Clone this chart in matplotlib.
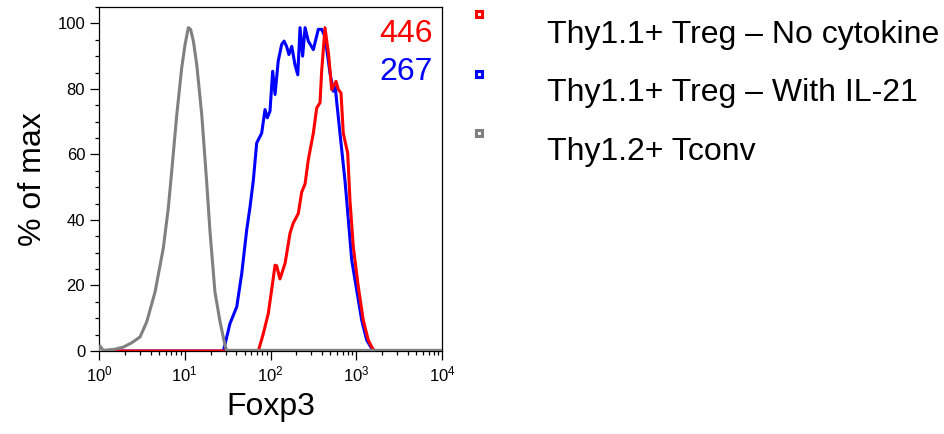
import numpy as np
import matplotlib
matplotlib.use("Agg")
import matplotlib.pyplot as plt
from matplotlib.lines import Line2D
from matplotlib.ticker import LogLocator, MultipleLocator

plt.rcParams['font.family'] = ['Liberation Sans', 'DejaVu Sans']
plt.rcParams['mathtext.fontset'] = 'custom'
plt.rcParams['mathtext.rm'] = 'Liberation Sans'
plt.rcParams['mathtext.it'] = 'Liberation Sans'

# Foxp3 intensity / % of max
tconv_x = [1.0, 1.03, 1.12, 1.5, 1.92, 2.4, 3.01, 3.60, 4.50, 5.62, 6.43, 7.04, 8.06,
           9.21, 10.07, 11.0, 11.7, 12.6, 13.8, 15.8, 18.0, 19.7, 22.5, 25.8, 29.5, 30.8, 10000]
tconv_y = [0.5, 1.5, 0.2, 0.5, 1.2, 2.5, 4.3, 8.9, 18, 31.4, 43.7, 54.8, 72,
           86.4, 93.5, 98.7, 98.2, 94.6, 87.4, 72, 51.7, 36.4, 18, 8.9, 1.7, 0.2, 0.2]

il21_x = [1.45, 28.2, 33.7, 40.4, 46.2, 52.8, 57.7, 63.0, 69.0, 78.9, 86.3, 91.8, 98.6,
          106, 113, 123, 135, 144, 154, 164, 177, 193, 208, 221, 237, 253, 276, 316, 361,
          395, 432, 494, 540, 565, 591, 646, 739, 774, 885, 1012, 1158, 1325, 1515, 1656, 10000]
il21_y = [0, 0, 8.4, 13.5, 23.7, 37, 44, 52, 63.5, 66.5, 73.7, 71.2, 73.2,
          85.4, 78.3, 88.5, 93.6, 94.6, 93, 90.5, 93, 87.4, 84.3, 98.7, 90, 98.7, 94.6, 92, 98.2,
          98.2, 96, 84.9, 79.3, 81.4, 76.2, 66.5, 52, 46, 27.8, 18.6, 9.4, 3.3, 0.8, 0, 0]

nocyt_x = [1.45, 72.1, 82.4, 94.3, 103, 113, 118, 129, 148, 169, 184, 211, 231, 253,
           276, 316, 346, 378, 395, 432, 476, 517, 581, 618, 664, 706, 795, 845,
           924, 1057, 1208, 1383, 1556, 1656, 10000]
nocyt_y = [0, 0, 5.3, 11.5, 18.6, 26.2, 26, 22, 26.8, 36, 39, 42, 48.5, 51,
           58.4, 66.5, 74.2, 75.8, 85.4, 98.7, 90.5, 79.8, 82.3, 79.8, 78.8, 66.5, 60.4, 46,
           31.8, 19.6, 9.4, 3.3, 0.7, 0, 0]

labels = ["Thy1.1+ Treg \u2013 No cytokine", "Thy1.1+ Treg \u2013 With IL-21", "Thy1.2+ Tconv"]
colors = ["#ff0000", "#0000ff", "#808080"]
mfi = ["446", "267"]

fig = plt.figure(figsize=(9.44, 4.34), dpi=100)
ax = fig.add_axes([0.1049, 0.1912, 0.3633, 0.7926])

ax.plot(il21_x, il21_y, color=colors[1], lw=2.2, zorder=2)
ax.plot(nocyt_x, nocyt_y, color=colors[0], lw=2.2, zorder=3)
ax.plot(tconv_x, tconv_y, color=colors[2], lw=2.2, zorder=4)

ax.set_xscale("log")
ax.set_xlim(1, 10000)
ax.set_ylim(0, 105)
ax.yaxis.set_major_locator(MultipleLocator(20))
ax.yaxis.set_minor_locator(MultipleLocator(5))
ax.xaxis.set_major_locator(LogLocator(base=10, numticks=10))
ax.xaxis.set_minor_locator(LogLocator(base=10, subs=np.arange(2, 10), numticks=10))
ax.tick_params(which="major", direction="out", length=6.5, width=0.9, labelsize=12)
ax.tick_params(which="minor", direction="out", length=3, width=0.9)
for s in ax.spines.values():
    s.set_linewidth(0.9)

ax.set_xlabel("Foxp3", fontsize=23, labelpad=5)
ax.set_ylabel("% of max", fontsize=23, labelpad=7)

ax.text(0.973, 0.898, mfi[0], transform=ax.transAxes, color=colors[0],
        fontsize=23, ha="right", va="baseline")
ax.text(0.973, 0.788, mfi[1], transform=ax.transAxes, color=colors[1],
        fontsize=23, ha="right", va="baseline")

# legend drawn by hand: marker sits a bit above its text
for i, (lab, c) in enumerate(zip(labels, colors)):
    my = 1 - (14 + i * 59.5) / 434
    ty = 1 - (43 + i * 58.5) / 434
    fig.add_artist(Line2D([479 / 944], [my], marker="s", ms=4.2, mfc="white",
                          mec=c, mew=2.2, transform=fig.transFigure))
    fig.text(547 / 944, ty, lab, fontsize=23, ha="left", va="baseline")

fig.savefig("out.png", dpi=100)
